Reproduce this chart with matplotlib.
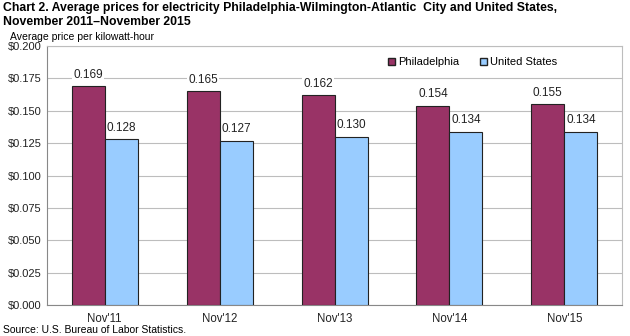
import numpy as np
import matplotlib
matplotlib.use("Agg")
import matplotlib.pyplot as plt
from matplotlib.patches import Patch

plt.rcParams["font.family"] = ["Liberation Sans", "DejaVu Sans"]

# ── Data ──────────────────────────────────────────────────────────────────────
CATEGORIES = ["Nov'11", "Nov'12", "Nov'13", "Nov'14", "Nov'15"]
PHILADELPHIA = [0.169, 0.165, 0.162, 0.154, 0.155]
UNITED_STATES = [0.128, 0.127, 0.130, 0.134, 0.134]
Y_TICKS = [0.0, 0.025, 0.05, 0.075, 0.1, 0.125, 0.15, 0.175, 0.2]

PHIL_COLOR = "#993366"
US_COLOR = "#99CCFF"
GRID = "#bdbdbd"

fig = plt.figure(figsize=(6.3, 3.36), dpi=100, facecolor="white")
ax = fig.add_axes([0.075, 0.092, 0.912, 0.771])

x = np.arange(len(CATEGORIES))
w = 0.287
b1 = ax.bar(x - w / 2, PHILADELPHIA, w, color=PHIL_COLOR, edgecolor="#222222",
            linewidth=0.8, zorder=3, label="Philadelphia")
b2 = ax.bar(x + w / 2, UNITED_STATES, w, color=US_COLOR, edgecolor="#222222",
            linewidth=0.8, zorder=3, label="United States")

for bars, vals in ((b1, PHILADELPHIA), (b2, UNITED_STATES)):
    for r, v in zip(bars, vals):
        ax.annotate(f"{v:.3f}", (r.get_x() + r.get_width() / 2, v),
                    xytext=(0, 4), textcoords="offset points",
                    ha="center", va="bottom", fontsize=8.5, color="#222",
                    zorder=2,
                    bbox=dict(facecolor="white", edgecolor="none", pad=1))

ax.set_xlim(-0.5, len(CATEGORIES) - 0.5)
ax.set_ylim(0, 0.2)
ax.set_yticks(Y_TICKS)
ax.set_yticklabels([f"${t:.3f}" for t in Y_TICKS], fontsize=8)
ax.set_xticks(x)
ax.set_xticklabels(CATEGORIES, fontsize=8.3)
ax.tick_params(axis="both", length=0, colors="#222")
ax.tick_params(axis="y", pad=4)
ax.tick_params(axis="x", pad=6)
ax.grid(axis="y", color=GRID, linewidth=0.8, zorder=0)
for s in ax.spines.values():
    s.set_color(GRID)
    s.set_linewidth(0.8)
ax.spines["left"].set_color("#888888")
ax.spines["bottom"].set_color("#888888")

handles = [Patch(facecolor=PHIL_COLOR, edgecolor="#222"),
           Patch(facecolor=US_COLOR, edgecolor="#222")]
ax.legend(handles, ["Philadelphia", "United States"], loc="center left",
          bbox_to_anchor=(0.593, 0.938), ncol=2, frameon=False, fontsize=8,
          handlelength=0.6, handleheight=0.6, handletextpad=0.3,
          columnspacing=1.9, borderpad=0, borderaxespad=0)

fig.text(0.005, 0.995,
         "Chart 2. Average prices for electricity Philadelphia-Wilmington-Atlantic  City and United States,\nNovember 2011\u2013November 2015",
         ha="left", va="top", fontsize=8.8, fontweight="bold", linespacing=1.25)
fig.text(0.016, 0.89, "Average price per kilowatt-hour", ha="left", va="center",
         fontsize=7.5)
fig.text(0.005, 0.018, "Source: U.S. Bureau of Labor Statistics.", ha="left",
         va="center", fontsize=7.5)

fig.savefig("out.png", dpi=100, facecolor="white")
